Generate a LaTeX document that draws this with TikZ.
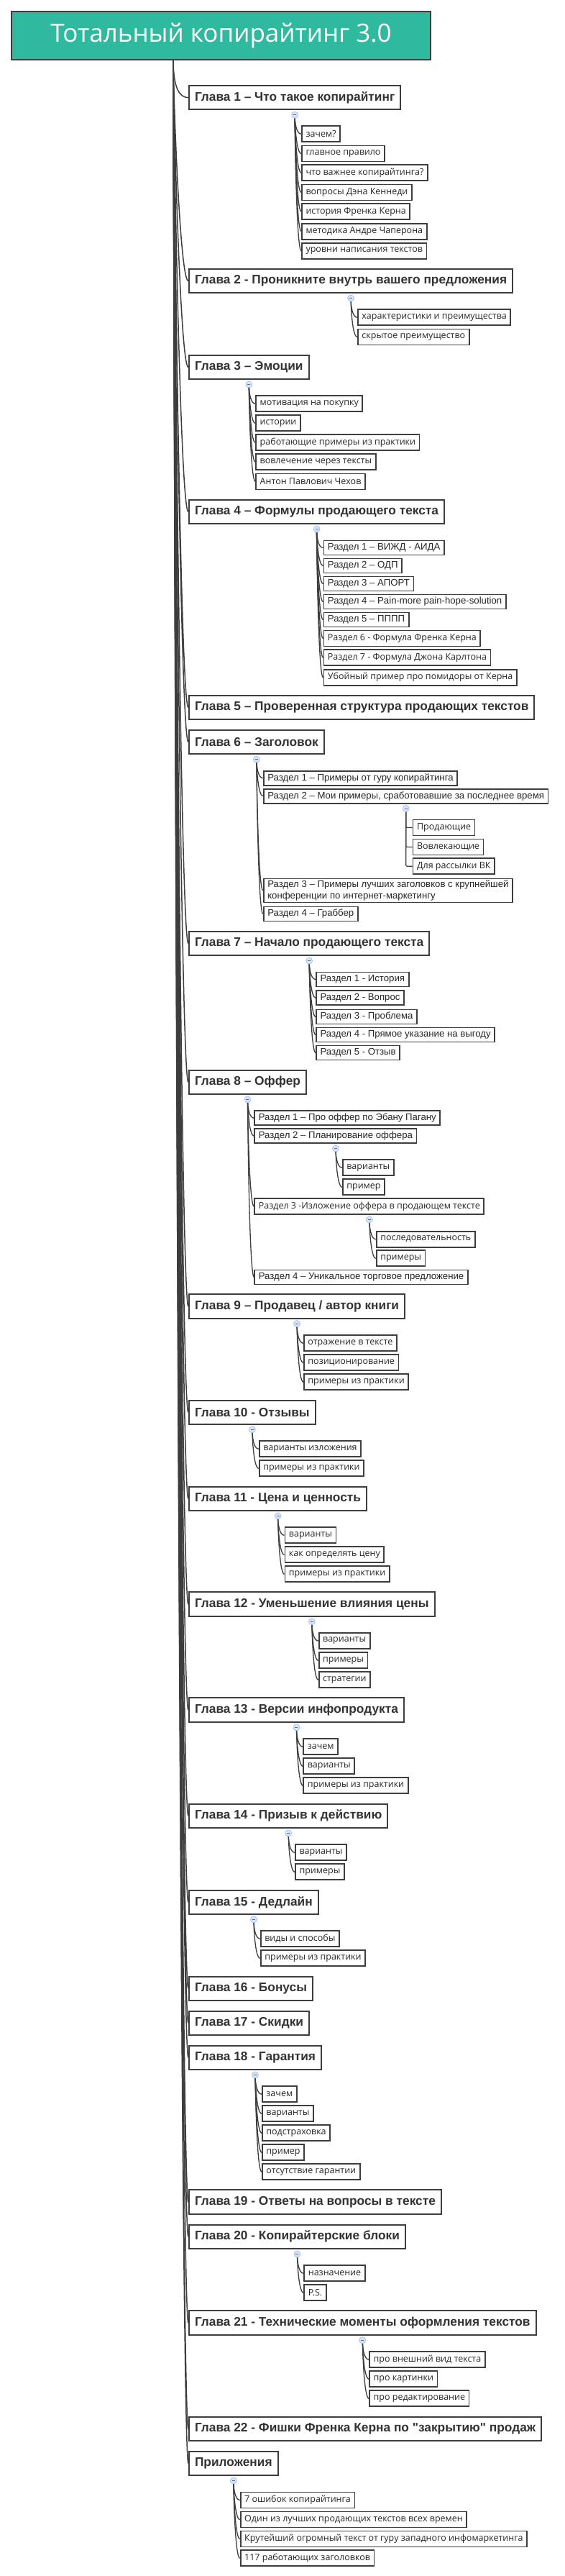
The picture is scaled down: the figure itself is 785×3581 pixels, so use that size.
\documentclass[tikz,border=0pt]{standalone}
\usepackage{fontspec}
\setmainfont{Open Sans}
\newfontfamily\headfont{Liberation Sans}
\usetikzlibrary{positioning,calc,backgrounds}
\definecolor{titlegreen}{HTML}{2FB99E}
\definecolor{boxgray}{HTML}{3D3D3D}
\definecolor{textgray}{HTML}{333333}
\definecolor{foldfill}{HTML}{D5E3FB}
\definecolor{foldblue}{HTML}{9DB9EC}
\tikzset{
	titlebox/.style={draw=boxgray, fill=titlegreen, line width=2pt, text=white,
		font=\fontsize{35}{40}\selectfont, minimum width=583pt, minimum height=67pt, inner sep=0pt},
	chapter/.style={draw=boxgray, fill=white, line width=2pt, text=textgray, anchor=west,
		font=\headfont\bfseries\fontsize{17.3}{20}\selectfont, minimum height=33.5pt, inner xsep=8pt},
	leaf/.style={draw=boxgray, fill=white, line width=1.8pt, text=black!85, anchor=west,
		font=\fontsize{12.5}{15}\selectfont, minimum height=22pt, inner xsep=5.5pt, inner ysep=1pt},
	part/.style={leaf, font=\headfont\fontsize{13.2}{15.5}\selectfont, minimum height=20pt},
	fold/.style={circle, draw=foldblue, fill=foldfill, minimum size=9pt, inner sep=0pt, line width=0.6pt,
		path picture={\draw[foldblue!60!black, line width=0.6pt]
			([xshift=-2pt]path picture bounding box.center) -- ([xshift=2pt]path picture bounding box.center);}},
	limb/.style={draw=boxgray, line width=1.5pt, to path={.. controls +(0,40) and +(-12,0) .. (\tikztotarget)}},
	twig/.style={draw=boxgray, line width=1.3pt, to path={.. controls +(0,10) and +(-7,0) .. (\tikztotarget)}},
}
\begin{document}
\begin{tikzpicture}[x=1pt,y=-1pt]
\useasboundingbox (0,0) rectangle (785,3581);

\node[titlebox] (title) at (307.5,49.5) {Тотальный копирайтинг 3.0};
\coordinate (root) at (241,83);

% Глава 1
\node[chapter] (ch1) at (262,135.7) {Глава 1 – Что такое копирайтинг};
\node[fold, below=1.5pt of ch1] (f1) {};
\node[leaf] (c1a) at ($(f1|-0,186.3)+(9,0)$) {зачем?};
\node[leaf] (c1b) at ($(f1|-0,213.5)+(9,0)$) {главное правило};
\node[leaf] (c1c) at ($(f1|-0,240.3)+(9,0)$) {что важнее копирайтинга?};
\node[leaf] (c1d) at ($(f1|-0,267.5)+(9,0)$) {вопросы Дэна Кеннеди};
\node[leaf] (c1e) at ($(f1|-0,294.2)+(9,0)$) {история Френка Керна};
\node[leaf] (c1f) at ($(f1|-0,321.7)+(9,0)$) {методика Андре Чаперона};
\node[leaf] (c1g) at ($(f1|-0,348.8)+(9,0)$) {уровни написания текстов};

% Глава 2
\node[chapter] (ch2) at (262,390.5) {Глава 2 - Проникните внутрь вашего предложения};
\node[fold, below=1.5pt of ch2] (f2) {};
\node[leaf] (c2a) at ($(f2|-0,441.3)+(9,0)$) {характеристики и преимущества};
\node[leaf] (c2b) at ($(f2|-0,468.5)+(9,0)$) {скрытое преимущество};

% Глава 3
\node[chapter] (ch3) at (262,510.5) {Глава 3 – Эмоции};
\node[fold, below=1.5pt of ch3] (f3) {};
\node[leaf] (c3a) at ($(f3|-0,561.3)+(9,0)$) {мотивация на покупку};
\node[leaf] (c3b) at ($(f3|-0,588.3)+(9,0)$) {истории};
\node[leaf] (c3c) at ($(f3|-0,615.3)+(9,0)$) {работающие примеры из практики};
\node[leaf] (c3d) at ($(f3|-0,642.3)+(9,0)$) {вовлечение через тексты};
\node[leaf] (c3e) at ($(f3|-0,669.5)+(9,0)$) {Антон Павлович Чехов};

% Глава 4
\node[chapter] (ch4) at (262,711.5) {Глава 4 – Формулы продающего текста};
\node[fold, below=1.5pt of ch4] (f4) {};
\node[part] (c4a) at ($(f4|-0,761.5)+(9,0)$) {Раздел 1 – ВИЖД - АИДА};
\node[part] (c4b) at ($(f4|-0,786.5)+(9,0)$) {Раздел 2 – ОДП};
\node[part] (c4c) at ($(f4|-0,811.5)+(9,0)$) {Раздел 3 – АПОРТ};
\node[part] (c4d) at ($(f4|-0,836.5)+(9,0)$) {Раздел 4 – Pain-more pain-hope-solution};
\node[part] (c4e) at ($(f4|-0,861.5)+(9,0)$) {Раздел 5 – ПППП};
\node[leaf] (c4f) at ($(f4|-0,887.5)+(9,0)$) {Раздел 6 - Формула Френка Керна};
\node[leaf] (c4g) at ($(f4|-0,914.3)+(9,0)$) {Раздел 7 - Формула Джона Карлтона};
\node[leaf] (c4h) at ($(f4|-0,941.7)+(9,0)$) {Убойный пример про помидоры от Керна};

% Глава 5
\node[chapter] (ch5) at (262,983.3) {Глава 5 – Проверенная структура продающих текстов};

% Глава 6
\node[chapter] (ch6) at (262,1031.5) {Глава 6 – Заголовок};
\node[fold, below=1.5pt of ch6] (f6) {};
\node[part] (c6a) at ($(f6|-0,1081.7)+(9,0)$) {Раздел 1 – Примеры от гуру копирайтинга};
\node[part] (c6b) at ($(f6|-0,1106.7)+(9,0)$) {Раздел 2 – Мои примеры, сработовавшие за последнее время};
\node[fold, below=1.5pt of c6b] (f6b) {};
\node[leaf] (g6a) at ($(f6b|-0,1150.5)+(9,0)$) {Продающие};
\node[leaf] (g6b) at ($(f6b|-0,1177.5)+(9,0)$) {Вовлекающие};
\node[leaf] (g6c) at ($(f6b|-0,1204.3)+(9,0)$) {Для рассылки ВК};
\node[part, align=left, inner ysep=2.5pt] (c6c) at ($(f6|-0,1238)+(9,0)$)
	{Раздел 3 – Примеры лучших заголовков с крупнейшей\\конференции по интернет-маркетингу};
\node[part] (c6d) at ($(f6|-0,1270.5)+(9,0)$) {Раздел 4 – Граббер};

% Глава 7
\node[chapter] (ch7) at (262,1311.5) {Глава 7 – Начало продающего текста};
\node[fold, below=1.5pt of ch7] (f7) {};
\node[part] (c7a) at ($(f7|-0,1361.5)+(9,0)$) {Раздел 1 - История};
\node[part] (c7b) at ($(f7|-0,1387.3)+(9,0)$) {Раздел 2 - Вопрос};
\node[part] (c7c) at ($(f7|-0,1413.5)+(9,0)$) {Раздел 3 - Проблема};
\node[part] (c7d) at ($(f7|-0,1438.5)+(9,0)$) {Раздел 4 - Прямое указание на выгоду};
\node[part] (c7e) at ($(f7|-0,1463.5)+(9,0)$) {Раздел 5 - Отзыв};

% Глава 8
\node[chapter] (ch8) at (262,1504.3) {Глава 8 – Оффер};
\node[fold, below=1.5pt of ch8] (f8) {};
\node[part] (c8a) at ($(f8|-0,1554.3)+(9,0)$) {Раздел 1 – Про оффер по Эбану Пагану};
\node[part] (c8b) at ($(f8|-0,1579.3)+(9,0)$) {Раздел 2 – Планирование оффера};
\node[fold, below=1.5pt of c8b] (f8b) {};
\node[leaf] (g8a) at ($(f8b|-0,1623.3)+(9,0)$) {варианты};
\node[leaf] (g8b) at ($(f8b|-0,1650.3)+(9,0)$) {пример};
\node[leaf] (c8c) at ($(f8|-0,1677.3)+(9,0)$) {Раздел 3 -Изложение оффера в продающем тексте};
\node[fold, below=1.5pt of c8c] (f8c) {};
\node[leaf] (g8c) at ($(f8c|-0,1722.7)+(9,0)$) {последовательность};
\node[leaf] (g8d) at ($(f8c|-0,1749.3)+(9,0)$) {примеры};
\node[part] (c8d) at ($(f8|-0,1775.5)+(9,0)$) {Раздел 4 – Уникальное торговое предложение};

% Глава 9
\node[chapter] (ch9) at (262,1816) {Глава 9 – Продавец / автор книги};
\node[fold, below=1.5pt of ch9] (f9) {};
\node[leaf] (c9a) at ($(f9|-0,1867.3)+(9,0)$) {отражение в тексте};
\node[leaf] (c9b) at ($(f9|-0,1894.3)+(9,0)$) {позиционирование};
\node[leaf] (c9c) at ($(f9|-0,1921.3)+(9,0)$) {примеры из практики};

% Глава 10
\node[chapter] (ch10) at (262,1963.3) {Глава 10 - Отзывы};
\node[fold, below=1.5pt of ch10] (f10) {};
\node[leaf] (c10a) at ($(f10|-0,2014.2)+(9,0)$) {варианты изложения};
\node[leaf] (c10b) at ($(f10|-0,2041.3)+(9,0)$) {примеры из практики};

% Глава 11
\node[chapter] (ch11) at (262,2083.3) {Глава 11 - Цена и ценность};
\node[fold, below=1.5pt of ch11] (f11) {};
\node[leaf] (c11a) at ($(f11|-0,2134.3)+(9,0)$) {варианты};
\node[leaf] (c11b) at ($(f11|-0,2161.3)+(9,0)$) {как определять цену};
\node[leaf] (c11c) at ($(f11|-0,2188.3)+(9,0)$) {примеры из практики};

% Глава 12
\node[chapter] (ch12) at (262,2230.2) {Глава 12 - Уменьшение влияния цены};
\node[fold, below=1.5pt of ch12] (f12) {};
\node[leaf] (c12a) at ($(f12|-0,2281)+(9,0)$) {варианты};
\node[leaf] (c12b) at ($(f12|-0,2308.3)+(9,0)$) {примеры};
\node[leaf] (c12c) at ($(f12|-0,2335.3)+(9,0)$) {стратегии};

% Глава 13
\node[chapter] (ch13) at (262,2377.2) {Глава 13 - Версии инфопродукта};
\node[fold, below=1.5pt of ch13] (f13) {};
\node[leaf] (c13a) at ($(f13|-0,2428.3)+(9,0)$) {зачем};
\node[leaf] (c13b) at ($(f13|-0,2455.3)+(9,0)$) {варианты};
\node[leaf] (c13c) at ($(f13|-0,2482.3)+(9,0)$) {примеры из практики};

% Глава 14
\node[chapter] (ch14) at (262,2524.3) {Глава 14 - Призыв к действию};
\node[fold, below=1.5pt of ch14] (f14) {};
\node[leaf] (c14a) at ($(f14|-0,2575.3)+(9,0)$) {варианты};
\node[leaf] (c14b) at ($(f14|-0,2602.3)+(9,0)$) {примеры};

% Глава 15
\node[chapter] (ch15) at (262,2644.3) {Глава 15 - Дедлайн};
\node[fold, below=1.5pt of ch15] (f15) {};
\node[leaf] (c15a) at ($(f15|-0,2695.3)+(9,0)$) {виды и способы};
\node[leaf] (c15b) at ($(f15|-0,2722.3)+(9,0)$) {примеры из практики};

% Главы 16, 17
\node[chapter] (ch16) at (262,2764.3) {Глава 16 - Бонусы};
\node[chapter] (ch17) at (262,2812.3) {Глава 17 - Скидки};

% Глава 18
\node[chapter] (ch18) at (262,2860.3) {Глава 18 - Гарантия};
\node[fold, below=1.5pt of ch18] (f18) {};
\node[leaf] (c18a) at ($(f18|-0,2911.2)+(9,0)$) {зачем};
\node[leaf] (c18b) at ($(f18|-0,2938.2)+(9,0)$) {варианты};
\node[leaf] (c18c) at ($(f18|-0,2965.2)+(9,0)$) {подстраховка};
\node[leaf] (c18d) at ($(f18|-0,2992.3)+(9,0)$) {пример};
\node[leaf] (c18e) at ($(f18|-0,3019.2)+(9,0)$) {отсутствие гарантии};

% Глава 19
\node[chapter] (ch19) at (262,3061.2) {Глава 19 - Ответы на вопросы в тексте};

% Глава 20
\node[chapter] (ch20) at (262,3109.3) {Глава 20 - Копирайтерские блоки};
\node[fold, below=1.5pt of ch20] (f20) {};
\node[leaf] (c20a) at ($(f20|-0,3160.3)+(9,0)$) {назначение};
\node[leaf] (c20b) at ($(f20|-0,3187.3)+(9,0)$) {P.S.};

% Глава 21
\node[chapter] (ch21) at (262,3229.2) {Глава 21 - Технические моменты оформления текстов};
\node[fold, below=1.5pt of ch21] (f21) {};
\node[leaf] (c21a) at ($(f21|-0,3280.2)+(9,0)$) {про внешний вид текста};
\node[leaf] (c21b) at ($(f21|-0,3307.2)+(9,0)$) {про картинки};
\node[leaf] (c21c) at ($(f21|-0,3334.3)+(9,0)$) {про редактирование};

% Глава 22
\node[chapter] (ch22) at (262,3376.5) {Глава 22 - Фишки Френка Керна по "закрытию" продаж};

% Приложения
\node[chapter] (ch23) at (262,3424.3) {Приложения};
\node[fold, below=1.5pt of ch23] (f23) {};
\node[leaf] (c23a) at ($(f23|-0,3475.5)+(9,0)$) {7 ошибок копирайтинга};
\node[leaf] (c23b) at ($(f23|-0,3502.5)+(9,0)$) {Один из лучших продающих текстов всех времен};
\node[leaf] (c23c) at ($(f23|-0,3529.5)+(9,0)$) {Крутейший огромный текст от гуру западного инфомаркетинга};
\node[leaf] (c23d) at ($(f23|-0,3556.3)+(9,0)$) {117 работающих заголовков};

% connectors
\begin{scope}[on background layer]
\foreach \n in {1,...,23}
	\draw[limb] (root) to (ch\n.west);
\foreach \p/\kids in {f1/{c1a,c1b,c1c,c1d,c1e,c1f,c1g}, f2/{c2a,c2b}, f3/{c3a,c3b,c3c,c3d,c3e},
		f4/{c4a,c4b,c4c,c4d,c4e,c4f,c4g,c4h}, f6/{c6a,c6b,c6c,c6d}, f7/{c7a,c7b,c7c,c7d,c7e},
		f8/{c8a,c8b,c8c,c8d}, f8b/{g8a,g8b}, f8c/{g8c,g8d}, f9/{c9a,c9b,c9c}, f10/{c10a,c10b},
		f11/{c11a,c11b,c11c}, f12/{c12a,c12b,c12c}, f13/{c13a,c13b,c13c}, f14/{c14a,c14b},
		f15/{c15a,c15b}, f18/{c18a,c18b,c18c,c18d,c18e}, f20/{c20a,c20b}, f21/{c21a,c21b,c21c},
		f23/{c23a,c23b,c23c,c23d}}
	\foreach \c in \kids
		\draw[twig] (\p.center) to (\c.west);
\foreach \c in {g6a,g6b,g6c}
	\draw[draw=boxgray, line width=1.2pt, rounded corners=2pt] (f6b.center) |- (\c.west);
\end{scope}

\end{tikzpicture}
\end{document}
